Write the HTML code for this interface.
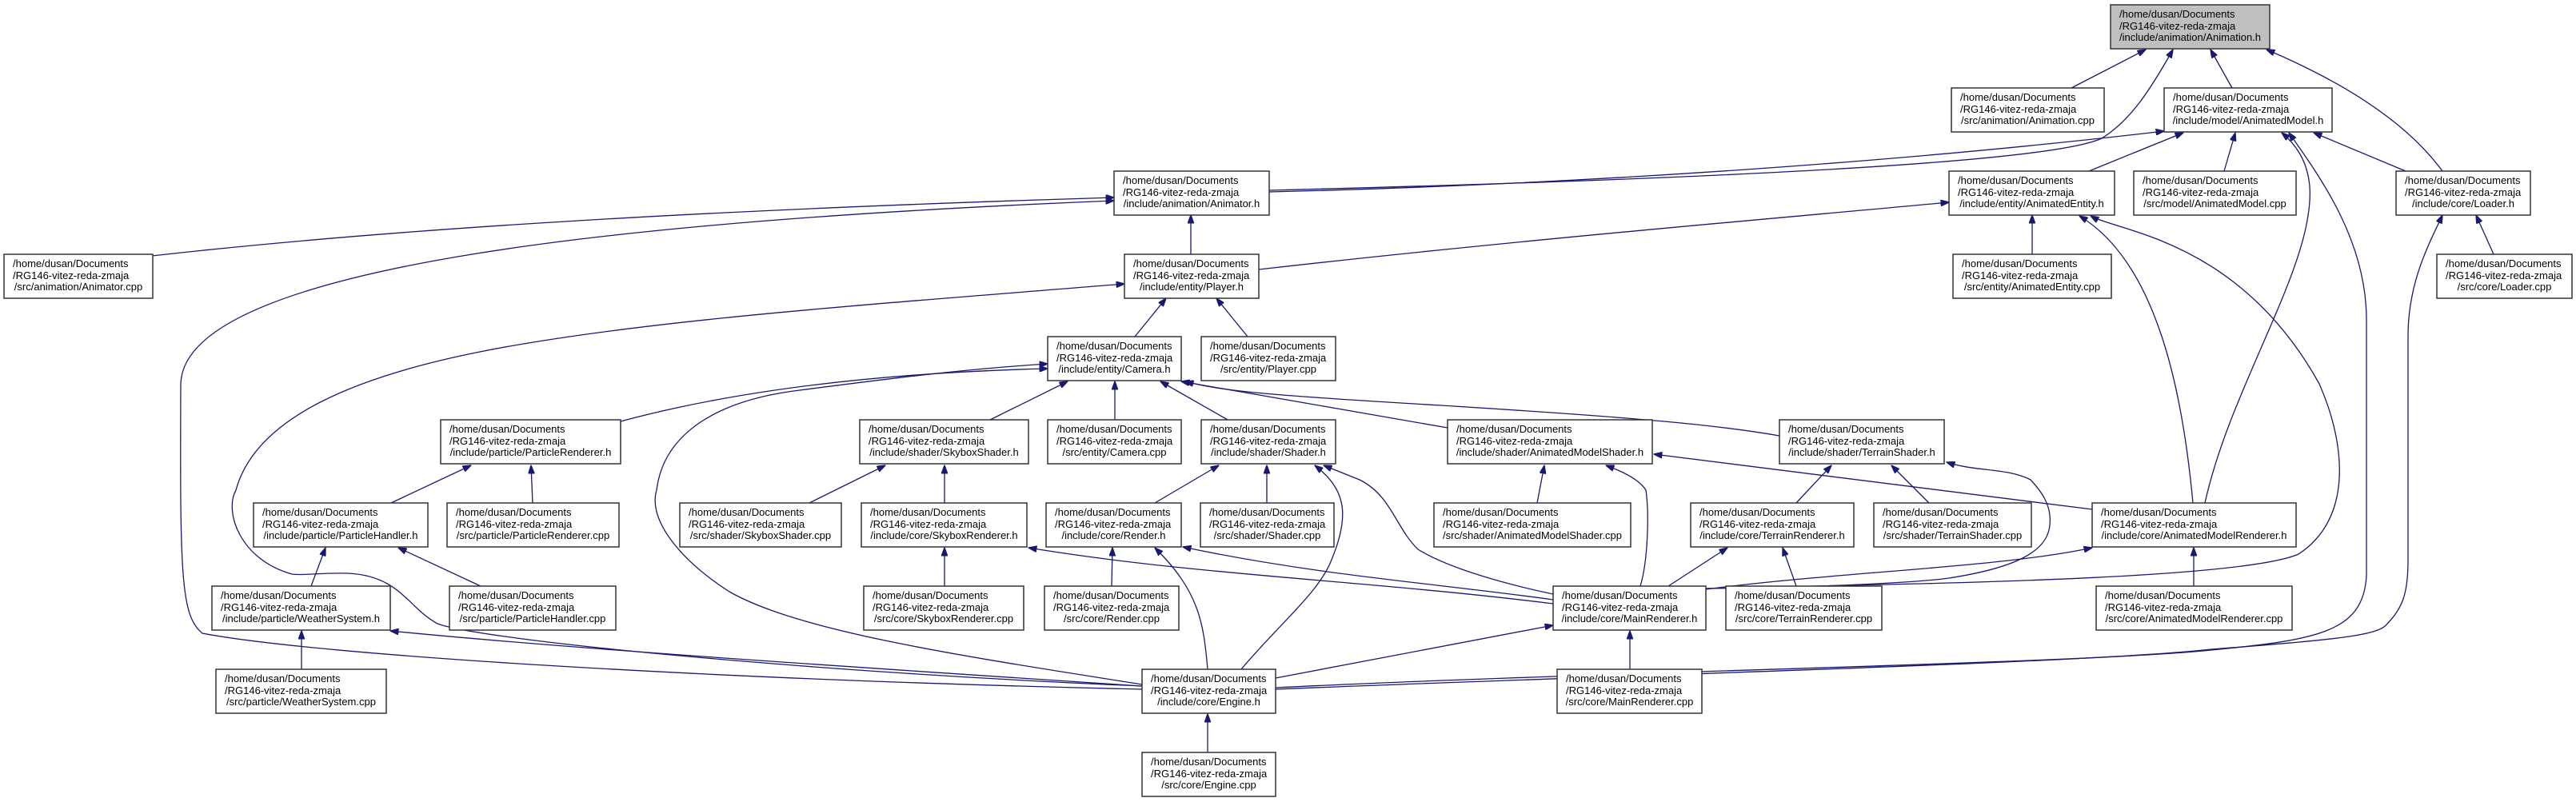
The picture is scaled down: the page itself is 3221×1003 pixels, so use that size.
<!DOCTYPE html>
<html><head><meta charset="utf-8"><style>
html,body{margin:0;padding:0;background:#fff;}
svg{display:block;}
text{font-family:"Liberation Sans",Arial,sans-serif;font-size:13px;fill:#000;}
.n rect{fill:#fff;stroke:#333;stroke-width:1.5;}
.e{fill:none;stroke:#191970;stroke-width:1.3;marker-end:url(#ah);}
</style></head><body>
<svg width="3221" height="1003" viewBox="0 0 3221 1003" xmlns="http://www.w3.org/2000/svg">
<defs><marker id="ah" markerUnits="userSpaceOnUse" markerWidth="11" markerHeight="8" refX="10.5" refY="4" orient="auto"><path d="M0,0 L11,4 L0,8 z" fill="#191970" stroke="#191970"/></marker></defs>
<g>
<path class="e" d="M2590,110 L2683,62"/>
<path class="e" d="M1587,238 C2100,225 2560,205 2628,173 C2665,150 2690,110 2717,62"/>
<path class="e" d="M2791,110 L2764,62"/>
<path class="e" d="M3054,214 C3000,140 2900,90 2834,62"/>
<path class="e" d="M1587,240 C2000,230 2400,200 2706,164"/>
<path class="e" d="M2612,214 L2730,166"/>
<path class="e" d="M2781,214 L2795,166"/>
<path class="e" d="M3008,214 L2893,166"/>
<path class="e" d="M2757,629 C2790,480 2895,330 2888,233 C2885,200 2870,180 2853,166"/>
<path class="e" d="M1595,860 C2000,840 2600,830 2765,813 C2900,800 2955,790 2959,720 L2959,400 C2959,300 2900,220 2862,166"/>
<path class="e" d="M1595,862 C2000,845 2600,830 2765,812 C2920,800 2975,795 2985,780 C3005,760 3011,740 3011,700 L3011,420 C3011,350 3040,300 3054,269"/>
<path class="e" d="M1574,337 C1900,300 2200,275 2437,253"/>
<path class="e" d="M2541,318 L2541,269"/>
<path class="e" d="M2742,629 C2730,500 2700,330 2600,270"/>
<path class="e" d="M2133,736 C2400,730 2800,725 2874,693 C2940,650 2935,560 2900,480 C2800,300 2650,290 2614,270"/>
<path class="e" d="M3118,318 L3096,269"/>
<path class="e" d="M190,320 C500,285 900,262 1393,247"/>
<path class="e" d="M1428,862 C900,850 400,820 253,792 C226,770 225,720 226,480 C230,330 800,275 1393,251"/>
<path class="e" d="M1489,318 L1489,269"/>
<path class="e" d="M1428,858 C1000,840 600,800 547,780 C510,760 500,720 435,717 C400,716 380,720 365,718 C300,700 280,640 295,613 C320,520 450,470 600,440 C800,400 1100,380 1406,355"/>
<path class="e" d="M1419,421 L1458,373"/>
<path class="e" d="M1560,421 L1521,373"/>
<path class="e" d="M776,527 C950,480 1150,465 1310,461"/>
<path class="e" d="M1428,856 C1200,820 1000,790 912,740 C850,700 810,650 821,613 C830,540 900,500 1000,488 C1100,475 1200,462 1310,455"/>
<path class="e" d="M1238,525 L1335,477"/>
<path class="e" d="M1394,525 L1394,477"/>
<path class="e" d="M1535,525 L1451,477"/>
<path class="e" d="M1810,535 L1477,477"/>
<path class="e" d="M2225,545 C2150,532 2060,523 1802,507 C1600,495 1530,490 1482,477"/>
<path class="e" d="M489,629 L589,582"/>
<path class="e" d="M666,629 L664,582"/>
<path class="e" d="M1012,629 L1107,582"/>
<path class="e" d="M1181,629 L1181,582"/>
<path class="e" d="M1444,629 L1524,582"/>
<path class="e" d="M1584,629 L1584,582"/>
<path class="e" d="M1552,837 C1600,780 1650,740 1665,700 C1690,640 1680,610 1644,582"/>
<path class="e" d="M1942,743 C1880,730 1810,710 1773,687 C1745,660 1740,620 1700,600 L1655,582"/>
<path class="e" d="M1922,629 L1931,582"/>
<path class="e" d="M2051,733 C2061,700 2062,640 2058,613 C2050,600 2030,590 2008,582"/>
<path class="e" d="M2616,637 L2068,568"/>
<path class="e" d="M2246,629 L2290,582"/>
<path class="e" d="M2412,629 L2365,582"/>
<path class="e" d="M2133,736 C2300,734 2400,728 2437,723 C2520,710 2560,690 2563,657 C2566,630 2550,612 2539,600 C2510,585 2470,590 2434,578"/>
<path class="e" d="M2133,737 C2300,715 2500,710 2616,685"/>
<path class="e" d="M2086,733 L2160,685"/>
<path class="e" d="M2246,733 L2229,685"/>
<path class="e" d="M2743,733 L2743,685"/>
<path class="e" d="M1181,733 L1181,685"/>
<path class="e" d="M1942,755 C1700,725 1500,720 1286,685"/>
<path class="e" d="M1390,733 L1391,685"/>
<path class="e" d="M1510,837 C1505,780 1500,740 1444,685"/>
<path class="e" d="M1942,750 C1800,730 1650,720 1479,684"/>
<path class="e" d="M389,733 L407,685"/>
<path class="e" d="M601,733 L498,685"/>
<path class="e" d="M377,837 L377,789"/>
<path class="e" d="M1428,858 C1000,830 700,810 488,789"/>
<path class="e" d="M2038,837 L2038,789"/>
<path class="e" d="M1595,848 L1942,782"/>
<path class="e" d="M1510,941 L1510,893"/>
</g>

<g class="n"><rect x="2639" y="6" width="199" height="55" style="fill:#bfbfbf"/><text x="2650" y="22">/home/dusan/Documents</text><text x="2650" y="37">/RG146-vitez-reda-zmaja</text><text x="2738.5" y="51" text-anchor="middle">/include/animation/Animation.h</text></g>
<g class="n"><rect x="2440" y="110" width="191" height="55"/><text x="2451" y="126">/home/dusan/Documents</text><text x="2451" y="141">/RG146-vitez-reda-zmaja</text><text x="2535.5" y="155" text-anchor="middle">/src/animation/Animation.cpp</text></g>
<g class="n"><rect x="2706" y="110" width="210" height="55"/><text x="2717" y="126">/home/dusan/Documents</text><text x="2717" y="141">/RG146-vitez-reda-zmaja</text><text x="2811" y="155" text-anchor="middle">/include/model/AnimatedModel.h</text></g>
<g class="n"><rect x="1393" y="214" width="194" height="55"/><text x="1404" y="230">/home/dusan/Documents</text><text x="1404" y="245">/RG146-vitez-reda-zmaja</text><text x="1490" y="259" text-anchor="middle">/include/animation/Animator.h</text></g>
<g class="n"><rect x="2437" y="214" width="207" height="55"/><text x="2448" y="230">/home/dusan/Documents</text><text x="2448" y="245">/RG146-vitez-reda-zmaja</text><text x="2540.5" y="259" text-anchor="middle">/include/entity/AnimatedEntity.h</text></g>
<g class="n"><rect x="2668" y="214" width="203" height="55"/><text x="2679" y="230">/home/dusan/Documents</text><text x="2679" y="245">/RG146-vitez-reda-zmaja</text><text x="2769.5" y="259" text-anchor="middle">/src/model/AnimatedModel.cpp</text></g>
<g class="n"><rect x="2996" y="214" width="168" height="55"/><text x="3007" y="230">/home/dusan/Documents</text><text x="3007" y="245">/RG146-vitez-reda-zmaja</text><text x="3080" y="259" text-anchor="middle">/include/core/Loader.h</text></g>
<g class="n"><rect x="5" y="318" width="186" height="55"/><text x="16" y="334">/home/dusan/Documents</text><text x="16" y="349">/RG146-vitez-reda-zmaja</text><text x="98" y="363" text-anchor="middle">/src/animation/Animator.cpp</text></g>
<g class="n"><rect x="1406" y="318" width="168" height="55"/><text x="1417" y="334">/home/dusan/Documents</text><text x="1417" y="349">/RG146-vitez-reda-zmaja</text><text x="1490" y="363" text-anchor="middle">/include/entity/Player.h</text></g>
<g class="n"><rect x="2442" y="318" width="198" height="55"/><text x="2453" y="334">/home/dusan/Documents</text><text x="2453" y="349">/RG146-vitez-reda-zmaja</text><text x="2541" y="363" text-anchor="middle">/src/entity/AnimatedEntity.cpp</text></g>
<g class="n"><rect x="3047" y="318" width="169" height="55"/><text x="3058" y="334">/home/dusan/Documents</text><text x="3058" y="349">/RG146-vitez-reda-zmaja</text><text x="3131.5" y="363" text-anchor="middle">/src/core/Loader.cpp</text></g>
<g class="n"><rect x="1310" y="421" width="167" height="55"/><text x="1321" y="437">/home/dusan/Documents</text><text x="1321" y="452">/RG146-vitez-reda-zmaja</text><text x="1393.5" y="466" text-anchor="middle">/include/entity/Camera.h</text></g>
<g class="n"><rect x="1502" y="421" width="168" height="55"/><text x="1513" y="437">/home/dusan/Documents</text><text x="1513" y="452">/RG146-vitez-reda-zmaja</text><text x="1586" y="466" text-anchor="middle">/src/entity/Player.cpp</text></g>
<g class="n"><rect x="551" y="525" width="225" height="55"/><text x="562" y="541">/home/dusan/Documents</text><text x="562" y="556">/RG146-vitez-reda-zmaja</text><text x="663.5" y="570" text-anchor="middle">/include/particle/ParticleRenderer.h</text></g>
<g class="n"><rect x="1075" y="525" width="211" height="55"/><text x="1086" y="541">/home/dusan/Documents</text><text x="1086" y="556">/RG146-vitez-reda-zmaja</text><text x="1180.5" y="570" text-anchor="middle">/include/shader/SkyboxShader.h</text></g>
<g class="n"><rect x="1310" y="525" width="167" height="55"/><text x="1321" y="541">/home/dusan/Documents</text><text x="1321" y="556">/RG146-vitez-reda-zmaja</text><text x="1393.5" y="570" text-anchor="middle">/src/entity/Camera.cpp</text></g>
<g class="n"><rect x="1502" y="525" width="168" height="55"/><text x="1513" y="541">/home/dusan/Documents</text><text x="1513" y="556">/RG146-vitez-reda-zmaja</text><text x="1586" y="570" text-anchor="middle">/include/shader/Shader.h</text></g>
<g class="n"><rect x="1810" y="525" width="256" height="55"/><text x="1821" y="541">/home/dusan/Documents</text><text x="1821" y="556">/RG146-vitez-reda-zmaja</text><text x="1938" y="570" text-anchor="middle">/include/shader/AnimatedModelShader.h</text></g>
<g class="n"><rect x="2225" y="525" width="206" height="55"/><text x="2236" y="541">/home/dusan/Documents</text><text x="2236" y="556">/RG146-vitez-reda-zmaja</text><text x="2328" y="570" text-anchor="middle">/include/shader/TerrainShader.h</text></g>
<g class="n"><rect x="317" y="629" width="218" height="55"/><text x="328" y="645">/home/dusan/Documents</text><text x="328" y="660">/RG146-vitez-reda-zmaja</text><text x="426" y="674" text-anchor="middle">/include/particle/ParticleHandler.h</text></g>
<g class="n"><rect x="559" y="629" width="215" height="55"/><text x="570" y="645">/home/dusan/Documents</text><text x="570" y="660">/RG146-vitez-reda-zmaja</text><text x="666.5" y="674" text-anchor="middle">/src/particle/ParticleRenderer.cpp</text></g>
<g class="n"><rect x="850" y="629" width="202" height="55"/><text x="861" y="645">/home/dusan/Documents</text><text x="861" y="660">/RG146-vitez-reda-zmaja</text><text x="951" y="674" text-anchor="middle">/src/shader/SkyboxShader.cpp</text></g>
<g class="n"><rect x="1077" y="629" width="207" height="55"/><text x="1088" y="645">/home/dusan/Documents</text><text x="1088" y="660">/RG146-vitez-reda-zmaja</text><text x="1180.5" y="674" text-anchor="middle">/include/core/SkyboxRenderer.h</text></g>
<g class="n"><rect x="1308" y="629" width="169" height="55"/><text x="1319" y="645">/home/dusan/Documents</text><text x="1319" y="660">/RG146-vitez-reda-zmaja</text><text x="1392.5" y="674" text-anchor="middle">/include/core/Render.h</text></g>
<g class="n"><rect x="1501" y="629" width="167" height="55"/><text x="1512" y="645">/home/dusan/Documents</text><text x="1512" y="660">/RG146-vitez-reda-zmaja</text><text x="1584.5" y="674" text-anchor="middle">/src/shader/Shader.cpp</text></g>
<g class="n"><rect x="1793" y="629" width="246" height="55"/><text x="1804" y="645">/home/dusan/Documents</text><text x="1804" y="660">/RG146-vitez-reda-zmaja</text><text x="1916" y="674" text-anchor="middle">/src/shader/AnimatedModelShader.cpp</text></g>
<g class="n"><rect x="2114" y="629" width="204" height="55"/><text x="2125" y="645">/home/dusan/Documents</text><text x="2125" y="660">/RG146-vitez-reda-zmaja</text><text x="2216" y="674" text-anchor="middle">/include/core/TerrainRenderer.h</text></g>
<g class="n"><rect x="2343" y="629" width="197" height="55"/><text x="2354" y="645">/home/dusan/Documents</text><text x="2354" y="660">/RG146-vitez-reda-zmaja</text><text x="2441.5" y="674" text-anchor="middle">/src/shader/TerrainShader.cpp</text></g>
<g class="n"><rect x="2616" y="629" width="255" height="55"/><text x="2627" y="645">/home/dusan/Documents</text><text x="2627" y="660">/RG146-vitez-reda-zmaja</text><text x="2743.5" y="674" text-anchor="middle">/include/core/AnimatedModelRenderer.h</text></g>
<g class="n"><rect x="265" y="733" width="223" height="55"/><text x="276" y="749">/home/dusan/Documents</text><text x="276" y="764">/RG146-vitez-reda-zmaja</text><text x="376.5" y="778" text-anchor="middle">/include/particle/WeatherSystem.h</text></g>
<g class="n"><rect x="562" y="733" width="208" height="55"/><text x="573" y="749">/home/dusan/Documents</text><text x="573" y="764">/RG146-vitez-reda-zmaja</text><text x="666" y="778" text-anchor="middle">/src/particle/ParticleHandler.cpp</text></g>
<g class="n"><rect x="1080" y="733" width="200" height="55"/><text x="1091" y="749">/home/dusan/Documents</text><text x="1091" y="764">/RG146-vitez-reda-zmaja</text><text x="1180" y="778" text-anchor="middle">/src/core/SkyboxRenderer.cpp</text></g>
<g class="n"><rect x="1306" y="733" width="168" height="55"/><text x="1317" y="749">/home/dusan/Documents</text><text x="1317" y="764">/RG146-vitez-reda-zmaja</text><text x="1390" y="778" text-anchor="middle">/src/core/Render.cpp</text></g>
<g class="n"><rect x="1942" y="733" width="191" height="55"/><text x="1953" y="749">/home/dusan/Documents</text><text x="1953" y="764">/RG146-vitez-reda-zmaja</text><text x="2037.5" y="778" text-anchor="middle">/include/core/MainRenderer.h</text></g>
<g class="n"><rect x="2158" y="733" width="195" height="55"/><text x="2169" y="749">/home/dusan/Documents</text><text x="2169" y="764">/RG146-vitez-reda-zmaja</text><text x="2255.5" y="778" text-anchor="middle">/src/core/TerrainRenderer.cpp</text></g>
<g class="n"><rect x="2621" y="733" width="245" height="55"/><text x="2632" y="749">/home/dusan/Documents</text><text x="2632" y="764">/RG146-vitez-reda-zmaja</text><text x="2743.5" y="778" text-anchor="middle">/src/core/AnimatedModelRenderer.cpp</text></g>
<g class="n"><rect x="270" y="837" width="213" height="55"/><text x="281" y="853">/home/dusan/Documents</text><text x="281" y="868">/RG146-vitez-reda-zmaja</text><text x="376.5" y="882" text-anchor="middle">/src/particle/WeatherSystem.cpp</text></g>
<g class="n"><rect x="1428" y="837" width="167" height="55"/><text x="1439" y="853">/home/dusan/Documents</text><text x="1439" y="868">/RG146-vitez-reda-zmaja</text><text x="1511.5" y="882" text-anchor="middle">/include/core/Engine.h</text></g>
<g class="n"><rect x="1947" y="837" width="181" height="55"/><text x="1958" y="853">/home/dusan/Documents</text><text x="1958" y="868">/RG146-vitez-reda-zmaja</text><text x="2037.5" y="882" text-anchor="middle">/src/core/MainRenderer.cpp</text></g>
<g class="n"><rect x="1428" y="941" width="167" height="55"/><text x="1439" y="957">/home/dusan/Documents</text><text x="1439" y="972">/RG146-vitez-reda-zmaja</text><text x="1511.5" y="986" text-anchor="middle">/src/core/Engine.cpp</text></g>
</svg>
</body></html>
